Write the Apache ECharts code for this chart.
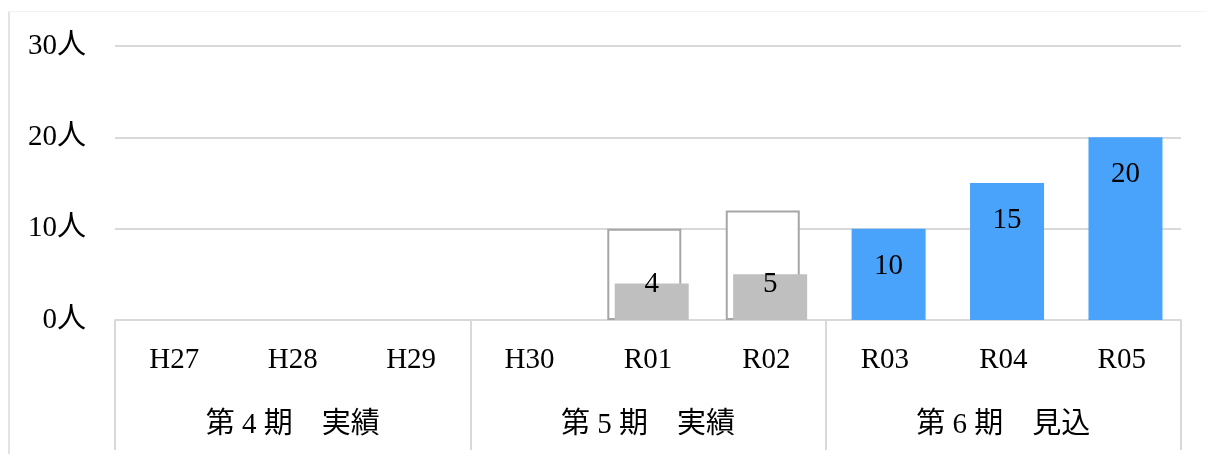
<!DOCTYPE html>
<html>
<head>
<meta charset="utf-8">
<script src="https://cdn.jsdelivr.net/npm/echarts@6/dist/echarts.min.js"></script>
<style>
  html, body { margin: 0; padding: 0; background: #fff; }
  #chart { width: 1207px; height: 454px; }
</style>
</head>
<body>
<div id="chart"></div>
<script>
// Fiscal years and the plan periods they belong to
const years = ['H27', 'H28', 'H29', 'H30', 'R01', 'R02', 'R03', 'R04', 'R05'];
const periods = ['第 4 期　実績', '第 5 期　実績', '第 6 期　見込'];

// Planned numbers (outlined bars), actual results (grey) and projections (blue)
const planned = [null, null, null, null, 10, 12, null, null, null];
const actual = [null, null, null, null, 4, 5, null, null, null];
const projected = [null, null, null, null, null, null, 10, 15, 20];

// Y-axis ticks
const yTicks = [0, 10, 20, 30];

const FONT = "'Liberation Serif', 'Noto Sans CJK JP', serif";
const SIZE = 29;
const LINE = '#d9d9d9';

const chart = echarts.init(document.getElementById('chart'));
chart.setOption({
  animation: false,
  backgroundColor: '#fff',
  textStyle: { fontFamily: FONT },
  grid: { left: 115, right: 26, top: 46, bottom: 134 },
  graphic: [
    { type: 'line', shape: { x1: 9, y1: 11, x2: 9, y2: 454 }, style: { stroke: '#e3e3e3', lineWidth: 2 } },
    { type: 'line', shape: { x1: 8, y1: 11.5, x2: 1207, y2: 11.5 }, style: { stroke: '#f2f2f2', lineWidth: 1 } }
  ],
  xAxis: [
    {
      type: 'category',
      data: years,
      position: 'bottom',
      axisLine: { show: true, lineStyle: { color: LINE, width: 2 } },
      axisTick: { show: false },
      axisLabel: { fontFamily: FONT, fontSize: SIZE, color: '#000', margin: 26, interval: 0 }
    },
    {
      type: 'category',
      data: periods,
      position: 'bottom',
      axisLine: { show: false },
      axisTick: { show: true, length: 130, interval: 0, lineStyle: { color: LINE, width: 2 } },
      axisLabel: { fontFamily: FONT, fontSize: 29, color: '#000', margin: 91, interval: 0 }
    }
  ],
  yAxis: {
    type: 'value',
    min: yTicks[0],
    max: yTicks[yTicks.length - 1],
    interval: 10,
    axisLine: { show: false },
    axisTick: { show: false },
    splitLine: { lineStyle: { color: LINE, width: 2 } },
    axisLabel: { fontFamily: FONT, fontSize: SIZE, color: '#000', margin: 29, formatter: '{value}人' }
  },
  series: [
    {
      name: '計画',
      type: 'bar',
      data: planned,
      barWidth: 74,
      barGap: '-90%',
      itemStyle: { color: '#fff', borderColor: '#a6a6a6', borderWidth: 2 }
    },
    {
      name: '実績',
      type: 'bar',
      stack: 'result',
      data: actual,
      barWidth: 74,
      itemStyle: { color: '#bfbfbf' },
      label: {
        show: true, position: 'insideBottom', distance: 21,
        fontFamily: FONT, fontSize: SIZE, color: '#000'
      }
    },
    {
      name: '見込',
      type: 'bar',
      stack: 'result',
      data: projected,
      barWidth: 74,
      itemStyle: { color: '#4aa3fa' },
      label: {
        show: true, position: 'insideTop', distance: 23,
        fontFamily: FONT, fontSize: SIZE, color: '#000'
      }
    }
  ]
});
</script>
</body>
</html>
